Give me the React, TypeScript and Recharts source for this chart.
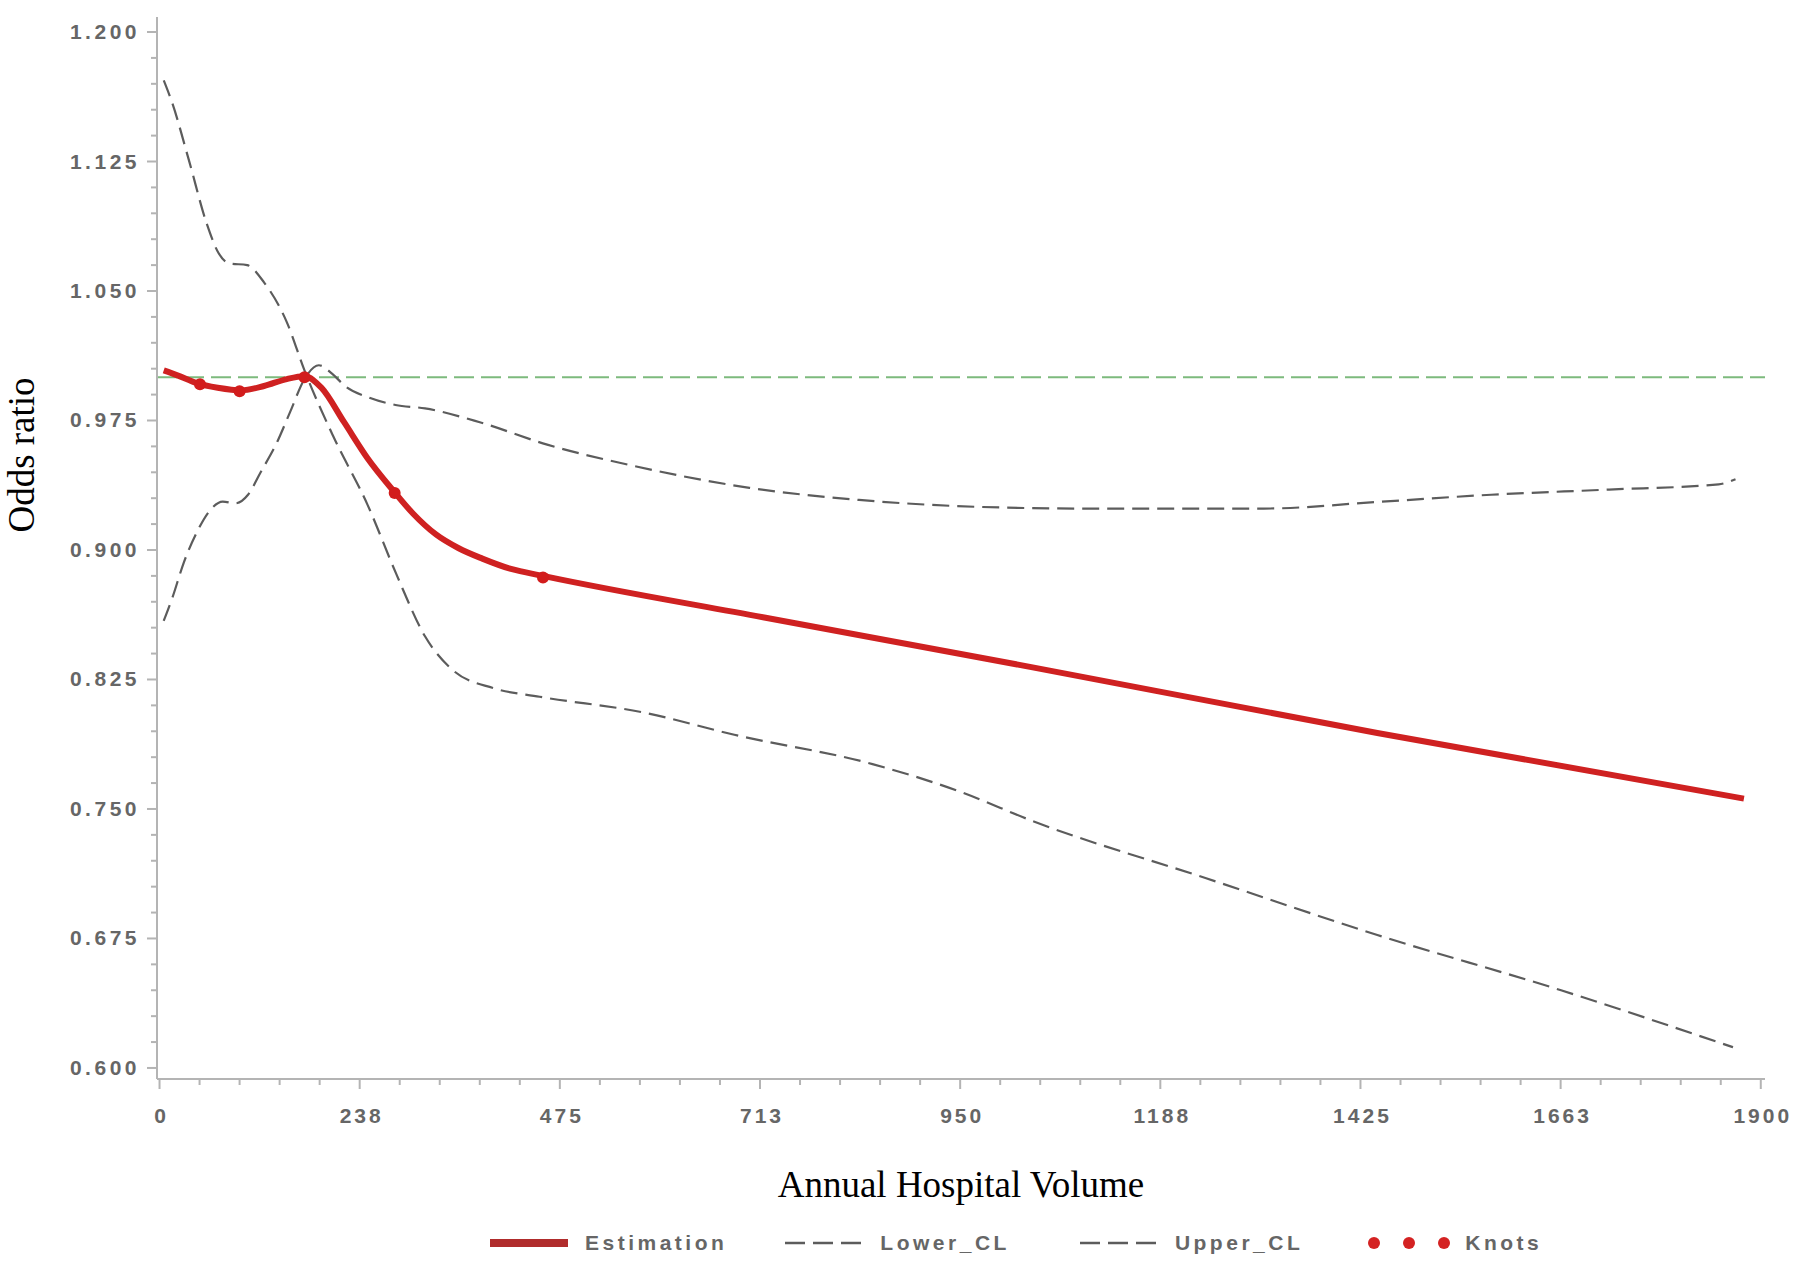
import React from 'react';
import { ComposedChart, Line, Scatter, XAxis, YAxis, ReferenceLine, Legend, Label } from 'recharts';

// Estimation curve (odds ratio vs annual hospital volume)
const estVolume = [5, 22, 45, 69, 97, 124, 151, 172, 192, 219, 247, 278, 301, 328, 355, 383, 417, 455, 716, 1036, 1445, 1880];
const estOdds = [1.004, 1.001, 0.9965, 0.994, 0.9925, 0.995, 0.999, 1.0006, 0.994, 0.974, 0.953, 0.934, 0.921, 0.909, 0.901, 0.895, 0.889, 0.885, 0.861, 0.832, 0.794, 0.756];

// confidence limit starting high on the left
const upperVolume = [5, 15, 35, 56, 70, 83, 104, 124, 151, 172, 206, 247, 281, 315, 349, 396, 451, 573, 682, 846, 950, 1036, 1241, 1445, 1663, 1867];
const upperOdds = [1.172, 1.159, 1.1255, 1.089, 1.072, 1.066, 1.065, 1.055, 1.032, 1.004, 0.966, 0.926, 0.886, 0.85, 0.83, 0.82, 0.815, 0.806, 0.793, 0.776, 0.76, 0.743, 0.71, 0.677, 0.645, 0.612];

// confidence limit starting low on the left
const lowerVolume = [5, 15, 29, 45, 60, 75, 90, 105, 120, 140, 155, 172, 189, 205, 220, 250, 280, 315, 380, 460, 560, 700, 830, 970, 1100, 1310, 1450, 1580, 1720, 1850, 1870];
const lowerOdds = [0.859, 0.872, 0.893, 0.911, 0.923, 0.928, 0.927, 0.932, 0.945, 0.963, 0.98, 0.999, 1.007, 1.002, 0.995, 0.988, 0.984, 0.982, 0.974, 0.961, 0.949, 0.936, 0.929, 0.925, 0.924, 0.924, 0.928, 0.932, 0.935, 0.938, 0.941];

const knotVolume = [48, 95, 172, 279, 455];
const knotOdds = [0.996, 0.992, 1.0, 0.933, 0.884];

const xMajorTicks = [0, 237.5, 475, 712.5, 950, 1187.5, 1425, 1662.5, 1900];
const yMajorTicks = [0.6, 0.675, 0.75, 0.825, 0.9, 0.975, 1.05, 1.125, 1.2];
const MINOR_PER_MAJOR = 5;

const AXIS_COLOR = '#b4b4b4';
const TICK_TEXT = '#666666';
const RED = '#cf2121';
const CL_GRAY = '#5c5c5c';
const SANS = '"Liberation Sans", Arial, sans-serif';
const SERIF = '"Liberation Serif", "Times New Roman", serif';

const toPoints = (xs: number[], ys: number[]) => xs.map((x, i) => ({ x, y: ys[i] }));

const withMinor = (majors: number[]) => {
  const out: number[] = [];
  for (let i = 0; i < majors.length - 1; i++) {
    const step = (majors[i + 1] - majors[i]) / MINOR_PER_MAJOR;
    for (let j = 0; j < MINOR_PER_MAJOR; j++) out.push(majors[i] + step * j);
  }
  out.push(majors[majors.length - 1]);
  return out;
};

const xTicks = withMinor(xMajorTicks);
const yTicks = withMinor(yMajorTicks);

const XTick = (props: any) => {
  const { x, y, index } = props;
  const major = index % MINOR_PER_MAJOR === 0;
  const label = Math.round(xMajorTicks[index / MINOR_PER_MAJOR] ?? 0);
  return (
    <g>
      <line x1={x} x2={x} y1={y} y2={y + (major ? 10 : 6)} stroke={AXIS_COLOR} strokeWidth={2} />
      {major && (
        <text x={x + 2} y={y + 44} textAnchor="middle" fontFamily={SANS} fontWeight="bold" fontSize={21} letterSpacing={3} fill={TICK_TEXT}>
          {label}
        </text>
      )}
    </g>
  );
};

const YTick = (props: any) => {
  const { x, y, index } = props;
  const major = index % MINOR_PER_MAJOR === 0;
  const label = (yMajorTicks[index / MINOR_PER_MAJOR] ?? 0).toFixed(3);
  return (
    <g>
      <line x1={x} x2={x} y1={y} y2={y} stroke={AXIS_COLOR} strokeWidth={2} />
      <line x1={x} x2={x - (major ? 10 : 6)} y1={y} y2={y} stroke={AXIS_COLOR} strokeWidth={2} />
      {major && (
        <text x={x - 17} y={y + 7} textAnchor="end" fontFamily={SANS} fontWeight="bold" fontSize={21} letterSpacing={3.5} fill={TICK_TEXT}>
          {label}
        </text>
      )}
    </g>
  );
};

const YTitle = (props: any) => {
  const { viewBox } = props;
  const cx = viewBox.x + 21;
  const cy = viewBox.y + viewBox.height / 2 - 93;
  return (
    <text x={cx} y={cy} transform={`rotate(-90 ${cx} ${cy})`} textAnchor="middle" dominantBaseline="central" fontFamily={SERIF} fontSize={37} fill="#000">
      Odds ratio
    </text>
  );
};

const Dash = () => (
  <svg width={76} height={10}>
    <line x1={0} x2={76} y1={5} y2={5} stroke={CL_GRAY} strokeWidth={2.5} strokeDasharray="20 8" />
  </svg>
);

const renderLegend = () => (
  <div
    style={{
      height: 58,
      display: 'flex',
      alignItems: 'center',
      paddingLeft: 490,
      fontFamily: SANS,
      fontWeight: 'bold',
      fontSize: 21,
      letterSpacing: 3.5,
      color: TICK_TEXT,
    }}
  >
    <svg width={78} height={10}>
      <rect x={0} y={1} width={78} height={8} fill="#b02c2c" />
    </svg>
    <span style={{ marginLeft: 17, marginRight: 58 }}>Estimation</span>
    <Dash />
    <span style={{ marginLeft: 19, marginRight: 70 }}>Lower_CL</span>
    <Dash />
    <span style={{ marginLeft: 19, marginRight: 64 }}>Upper_CL</span>
    <svg width={84} height={14}>
      {[7, 42, 77].map((cx) => (
        <circle key={cx} cx={cx} cy={7} r={6} fill="#d42222" />
      ))}
    </svg>
    <span style={{ marginLeft: 14 }}>Knots</span>
  </div>
);

const knotShape = (props: any) => <circle cx={props.cx} cy={props.cy} r={6} fill="#d21c1c" />;

export default function App() {
  return (
    <div style={{ width: 1800, height: 1272, background: '#fff' }}>
      <style>{'body{margin:0}'}</style>
      <ComposedChart width={1800} height={1272} margin={{ top: 17, right: 35, bottom: 0, left: 0 }}>
        <XAxis
          dataKey="x"
          type="number"
          domain={[-3, 1905]}
          ticks={xTicks}
          interval={0}
          allowDataOverflow
          height={135}
          axisLine={{ stroke: AXIS_COLOR, strokeWidth: 2 }}
          tickLine={false}
          tickSize={0}
          tickMargin={0}
          tick={XTick}
        >
          <Label value="Annual Hospital Volume" position="insideBottom" offset={17} fontFamily={SERIF} fontSize={37} fill="#000" />
        </XAxis>
        <YAxis
          type="number"
          domain={[0.5936, 1.2087]}
          ticks={yTicks}
          interval={0}
          allowDataOverflow
          width={157}
          axisLine={{ stroke: AXIS_COLOR, strokeWidth: 2 }}
          tickLine={false}
          tickSize={0}
          tickMargin={0}
          tick={YTick}
        >
          <Label content={YTitle} />
        </YAxis>
        <ReferenceLine y={1} stroke="#7dba7d" strokeWidth={2} strokeDasharray="20 7" />
        <Line
          data={toPoints(upperVolume, upperOdds)}
          dataKey="y"
          type="monotone"
          stroke={CL_GRAY}
          strokeWidth={2.2}
          strokeDasharray="17 8"
          dot={false}
          isAnimationActive={false}
          name="Upper_CL"
        />
        <Line
          data={toPoints(lowerVolume, lowerOdds)}
          dataKey="y"
          type="monotone"
          stroke={CL_GRAY}
          strokeWidth={2.2}
          strokeDasharray="17 8"
          dot={false}
          isAnimationActive={false}
          name="Lower_CL"
        />
        <Line
          data={toPoints(estVolume, estOdds)}
          dataKey="y"
          type="monotone"
          stroke={RED}
          strokeWidth={6}
          dot={false}
          isAnimationActive={false}
          name="Estimation"
        />
        <Scatter data={toPoints(knotVolume, knotOdds)} dataKey="y" shape={knotShape} isAnimationActive={false} name="Knots" />
        <Legend verticalAlign="bottom" height={58} content={renderLegend} />
      </ComposedChart>
    </div>
  );
}
